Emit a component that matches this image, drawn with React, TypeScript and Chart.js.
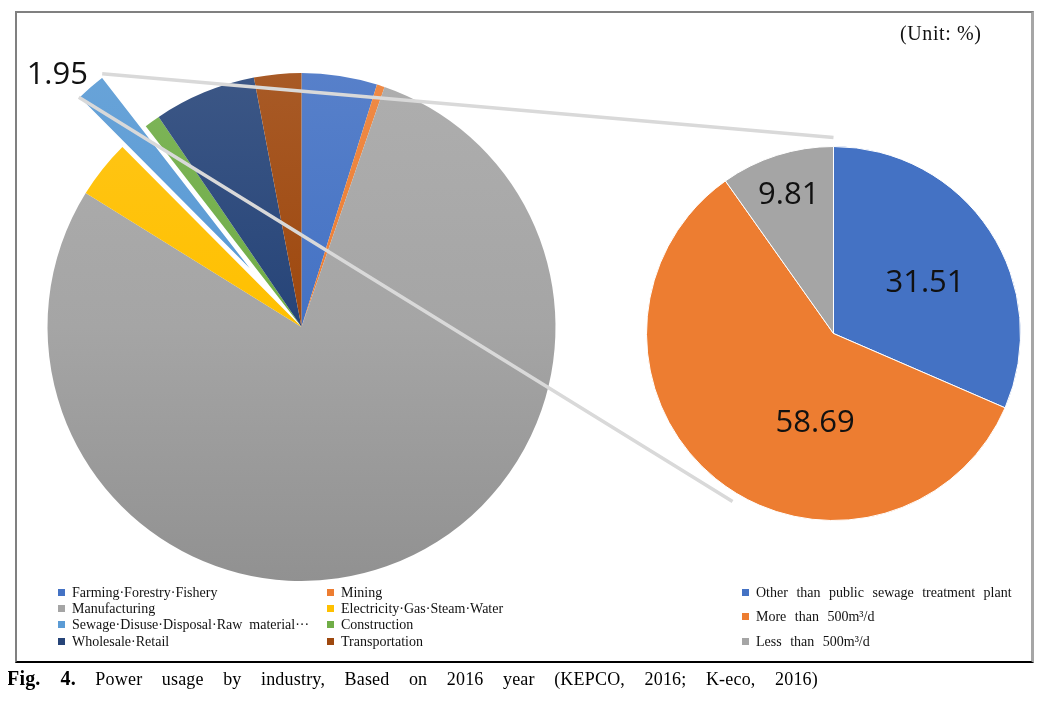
import React, { useEffect, useRef } from "react";
import { Chart, registerables } from "chart.js";

Chart.register(...registerables);

// ---------------- data ----------------
const industryLabels = [
  "Farming·Forestry·Fishery",
  "Mining",
  "Manufacturing",
  "Electricity·Gas·Steam·Water",
  "Sewage·Disuse·Disposal·Raw  material···",
  "Construction",
  "Wholesale·Retail",
  "Transportation",
];
const industryValues = [4.8, 0.5, 78.5, 3.7, 1.95, 1.0, 6.5, 3.0];
const industryColors = ["#4472C4", "#ED7D31", "#A5A5A5", "#FFC000", "#5B9BD5", "#70AD47", "#264478", "#9E480E"];
const explodedIndex = 4;
const explodedText = "1.95";

const sewageLabels = ["Other than public sewage treatment plant", "More than 500m³/d", "Less than 500m³/d"];
const sewageValues = [31.51, 58.69, 9.81];
const sewageColors = ["#4472C4", "#ED7D31", "#A5A5A5"];

const unitText = "(Unit: %)";
const captionBold = "Fig. 4.";
const captionText = " Power usage by industry, Based on 2016 year (KEPCO, 2016; K-eco, 2016)";

// ---------------- layout / style ----------------
const W = 1031;
const H = 692;
const LEFT_R = 254;
const LEFT_C = { x: 293.5, y: 319 };
const RIGHT_R = 187;
const RIGHT_C = { x: 825.5, y: 325.5 };
const EXPLODE = 66;
const CONNECTOR_GAP = 9;
const BOTTOM_CONNECTOR_DEG = 211; // clockwise from top on the second pie
const rightLabelPlacement = [
  { shift: 3.5, frac: 0.564 },
  { shift: -27.2, frac: 0.478 },
  { shift: 0, frac: 0.79 },
];
const explodedLabelPlacement = { shift: -2.6, extra: 32 };
const DEG = Math.PI / 180;
const NUM_FONT = '31px "Open Sans", "DejaVu Sans", sans-serif';

function mix(hex: string, target: number, t: number) {
  const n = parseInt(hex.slice(1), 16);
  const r = (n >> 16) & 255, g = (n >> 8) & 255, b = n & 255;
  const f = (c: number) => Math.round(c + (target - c) * t);
  return `rgb(${f(r)},${f(g)},${f(b)})`;
}

export default function App() {
  const leftRef = useRef<HTMLCanvasElement | null>(null);
  const rightRef = useRef<HTMLCanvasElement | null>(null);

  useEffect(() => {
    if (!leftRef.current || !rightRef.current) return;

    const explodePlugin = {
      id: "explode",
      beforeDatasetsDraw(chart: any) {
        const el = chart.getDatasetMeta(0).data[explodedIndex];
        if (el) el.hidden = true;
      },
      afterDatasetsDraw(chart: any) {
        const el = chart.getDatasetMeta(0).data[explodedIndex];
        if (!el) return;
        const ctx = chart.ctx;
        const mid = (el.startAngle + el.endAngle) / 2;
        ctx.save();
        ctx.translate(Math.cos(mid) * EXPLODE, Math.sin(mid) * EXPLODE);
        el.draw(ctx, chart.chartArea);
        ctx.restore();
        // value label
        const a = mid + explodedLabelPlacement.shift * DEG;
        const rr = el.outerRadius + EXPLODE + explodedLabelPlacement.extra;
        ctx.save();
        ctx.font = NUM_FONT;
        ctx.fillStyle = "#111";
        ctx.textAlign = "center";
        ctx.textBaseline = "alphabetic";
        ctx.fillText(explodedText, el.x + Math.cos(a) * rr, el.y + Math.sin(a) * rr + 11);
        ctx.restore();
      },
    };

    const gradientColor = (c: any) => {
      const base = industryColors[c.dataIndex] || "#999";
      const area = c.chart.chartArea;
      if (!area) return base;
      const g = c.chart.ctx.createLinearGradient(0, area.top, 0, area.bottom);
      g.addColorStop(0, mix(base, 255, 0.1));
      g.addColorStop(0.5, base);
      g.addColorStop(1, mix(base, 0, 0.12));
      return g;
    };

    const left = new Chart(leftRef.current, {
      type: "pie",
      data: {
        labels: industryLabels,
        datasets: [
          {
            data: industryValues,
            backgroundColor: gradientColor as any,
            borderWidth: industryValues.map((_, i) => (i === explodedIndex ? 1.5 : 0)),
            borderColor: "#ffffff",
          },
        ],
      },
      options: {
        animation: false,
        responsive: false,
        events: [],
        radius: LEFT_R,
        layout: {
          padding: {
            left: LEFT_C.x - LEFT_R,
            top: LEFT_C.y - LEFT_R,
            right: W - (LEFT_C.x + LEFT_R),
            bottom: H - (LEFT_C.y + LEFT_R),
          },
        },
        plugins: { legend: { display: false }, tooltip: { enabled: false }, title: { display: false } },
      } as any,
      plugins: [explodePlugin],
    });

    const rightPlugin = {
      id: "rightExtras",
      afterDatasetsDraw(chart: any) {
        const ctx = chart.ctx;
        const arcs = chart.getDatasetMeta(0).data;
        ctx.save();
        ctx.font = NUM_FONT;
        ctx.fillStyle = "#111";
        ctx.textAlign = "center";
        ctx.textBaseline = "alphabetic";
        arcs.forEach((el: any, i: number) => {
          const p = rightLabelPlacement[i];
          const a = (el.startAngle + el.endAngle) / 2 + p.shift * DEG;
          const rr = el.outerRadius * p.frac;
          ctx.fillText(
            sewageValues[i].toFixed(2),
            el.x + Math.cos(a) * rr,
            el.y + Math.sin(a) * rr + 11
          );
        });
        ctx.restore();

        // connector lines from the exploded slice of the first pie
        const lel: any = left.getDatasetMeta(0).data[explodedIndex];
        const rel: any = arcs[0];
        if (!lel || !rel) return;
        const mid = (lel.startAngle + lel.endAngle) / 2;
        const tx = Math.cos(mid) * EXPLODE;
        const ty = Math.sin(mid) * EXPLODE;
        const corner = (ang: number) => ({
          x: lel.x + tx + Math.cos(ang) * lel.outerRadius,
          y: lel.y + ty + Math.sin(ang) * lel.outerRadius,
        });
        const R = rel.outerRadius + CONNECTOR_GAP;
        const topEnd = { x: rel.x, y: rel.y - R };
        const botAng = (BOTTOM_CONNECTOR_DEG - 90) * DEG;
        const botEnd = { x: rel.x + Math.cos(botAng) * R, y: rel.y + Math.sin(botAng) * R };
        const c1 = corner(lel.endAngle);
        const c2 = corner(lel.startAngle);
        ctx.save();
        ctx.strokeStyle = "#d9d9d9";
        ctx.lineWidth = 3.5;
        ctx.lineCap = "butt";
        ctx.beginPath();
        ctx.moveTo(c1.x, c1.y - 3);
        ctx.lineTo(topEnd.x, topEnd.y);
        ctx.moveTo(c2.x, c2.y);
        ctx.lineTo(botEnd.x, botEnd.y);
        ctx.stroke();
        ctx.restore();
      },
    };

    const right = new Chart(rightRef.current, {
      type: "pie",
      data: {
        labels: sewageLabels,
        datasets: [
          {
            data: sewageValues,
            backgroundColor: sewageColors,
            borderWidth: 1,
            borderColor: "#ffffff",
          },
        ],
      },
      options: {
        animation: false,
        responsive: false,
        events: [],
        radius: RIGHT_R,
        layout: {
          padding: {
            left: RIGHT_C.x - RIGHT_R,
            top: RIGHT_C.y - RIGHT_R,
            right: W - (RIGHT_C.x + RIGHT_R),
            bottom: H - (RIGHT_C.y + RIGHT_R),
          },
        },
        plugins: { legend: { display: false }, tooltip: { enabled: false }, title: { display: false } },
      } as any,
      plugins: [rightPlugin],
    });

    return () => {
      right.destroy();
      left.destroy();
    };
  }, []);

  const serif = '"Liberation Serif", "Times New Roman", serif';
  const legendItem = (label: string, color: string, x: number, y: number, key: string, ws = 0) => (
    <div
      key={key}
      style={{
        position: "absolute",
        left: x,
        top: y - 8,
        height: 16,
        lineHeight: "16px",
        fontSize: 14,
        whiteSpace: "pre",
        wordSpacing: ws,
        color: "#111",
      }}
    >
      <span
        style={{
          display: "inline-block",
          width: 7,
          height: 7,
          background: color,
          marginRight: 7,
          verticalAlign: "middle",
          position: "relative",
          top: -1,
        }}
      />
      {label}
    </div>
  );

  const leftRows = [585, 601, 617, 634];
  const rightRows = [585, 609, 634];

  return (
    <div style={{ position: "relative", width: W, height: H, fontFamily: serif, color: "#000" }}>
      <div
        style={{
          position: "absolute",
          left: 7,
          top: 3,
          width: 1014,
          height: 648,
          borderLeft: "2px solid #808080",
          borderTop: "2px solid #808080",
          borderRight: "3px solid #a6a6a6",
          borderBottom: "2px solid #000",
        }}
      />
      <canvas ref={leftRef} width={W} height={H} style={{ position: "absolute", left: 0, top: 0 }} />
      <canvas ref={rightRef} width={W} height={H} style={{ position: "absolute", left: 0, top: 0 }} />
      <div
        style={{
          position: "absolute",
          left: 892,
          top: 15,
          fontSize: 20,
          lineHeight: "20px",
          letterSpacing: 0.6,
          whiteSpace: "pre",
          color: "#111",
        }}
      >
        {unitText}
      </div>
      {industryLabels.map((l, i) =>
        legendItem(l, industryColors[i], i % 2 === 0 ? 50 : 319, leftRows[Math.floor(i / 2)], "l" + i)
      )}
      {sewageLabels.map((l, i) => legendItem(l, sewageColors[i], 734, rightRows[i], "r" + i, 5))}
      <div
        style={{
          position: "absolute",
          left: -1,
          top: 661,
          width: 811,
          fontSize: 18,
          lineHeight: "18px",
          letterSpacing: 0.2,
          textAlign: "justify",
          textAlignLast: "justify" as any,
          whiteSpace: "nowrap",
        }}
      >
        <b style={{ fontSize: 20 }}>{captionBold}</b>
        {captionText}
      </div>
    </div>
  );
}
